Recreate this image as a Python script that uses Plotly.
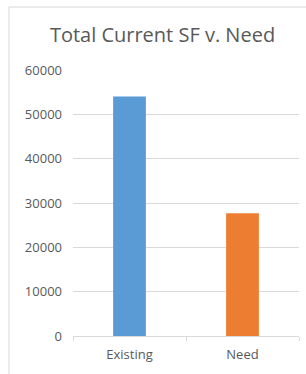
import plotly.graph_objects as go

categories = ["Existing", "Need"]
values = [54000, 27700]
colors = ["#5B9BD5", "#ED7D31"]
y_ticks = [0, 10000, 20000, 30000, 40000, 50000, 60000]

fig = go.Figure(go.Bar(x=categories, y=values, marker=dict(color=colors, line=dict(width=0)), width=0.29))

W, H = 306, 374
L, R, T, B = 73, 7, 70, 38
pw, ph = W - L - R, H - T - B

fig.update_layout(
    width=W, height=H,
    margin=dict(l=L, r=R, t=T, b=B),
    paper_bgcolor="white", plot_bgcolor="white",
    font=dict(family="Open Sans, Noto Sans, sans-serif", color="#595959"),
    title=dict(text="Total Current SF v. Need", x=162.5 / W, xref="container", xanchor="center",
               y=1 - 35 / H, yref="container", yanchor="middle",
               font=dict(size=20, color="#595959")),
    showlegend=False,
    xaxis=dict(showgrid=False, showline=True, linecolor="#d9d9d9", linewidth=1,
               ticks="outside", tickson="boundaries", ticklen=4, tickcolor="#d9d9d9",
               tickfont=dict(size=13, color="#595959"), ticklabelstandoff=6),
    yaxis=dict(range=[0, 60000], tickvals=y_ticks, ticktext=[str(v) for v in y_ticks],
               showgrid=True, gridcolor="#d9d9d9", gridwidth=1, zeroline=False, showline=False,
               ticks="", tickfont=dict(size=13, color="#595959"), ticklabelstandoff=10),
)

fig.add_shape(type="rect", xref="paper", yref="paper",
              x0=(9 - L) / pw, x1=(W + 5 - L) / pw, y0=-(B + 5) / ph, y1=1 + (T - 7) / ph,
              line=dict(color="#d9d9d9", width=1), fillcolor="rgba(0,0,0,0)", layer="below")

fig.write_html("out.html", config={"displayModeBar": False},
               post_script="document.body.style.margin='0';document.body.style.padding='0';")
